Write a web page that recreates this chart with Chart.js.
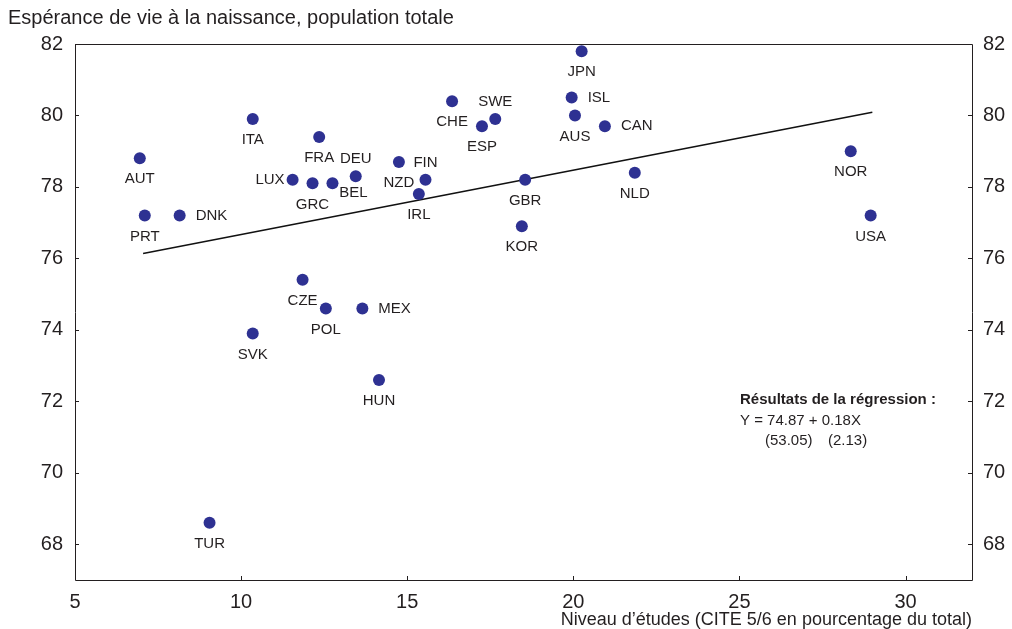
<!DOCTYPE html>
<html lang="fr">
<head>
<meta charset="utf-8">
<title>Espérance de vie et niveau d'études</title>
<script src="https://cdn.jsdelivr.net/npm/chart.js@4.4.1/dist/chart.umd.min.js"></script>
<style>
  html, body { margin: 0; padding: 0; background: #fff; }
  #wrap { width: 1012px; height: 629px; position: relative; }
</style>
</head>
<body>
<div id="wrap"><canvas id="c"></canvas></div>
<script>
// Pays (codes)
const countries = ['AUT','PRT','DNK','ITA','FRA','LUX','GRC','BEL','DEU','NZD','FIN','IRL',
  'CHE','SWE','ESP','JPN','ISL','AUS','CAN','GBR','KOR','NLD','NOR','USA',
  'CZE','POL','MEX','SVK','HUN','TUR'];
// Niveau d'études (CITE 5/6, % du total)
const education = [6.95, 7.1, 8.15, 10.35, 12.35, 11.55, 12.15, 12.75, 13.45, 14.75, 15.55, 15.35,
  16.35, 17.65, 17.25, 20.25, 19.95, 20.05, 20.95, 18.55, 18.45, 21.85, 28.35, 28.95,
  11.85, 12.55, 13.65, 10.35, 14.15, 9.05];
// Espérance de vie à la naissance
const lifeExpectancy = [78.8, 77.2, 77.2, 79.9, 79.4, 78.2, 78.1, 78.1, 78.3, 78.7, 78.2, 77.8,
  80.4, 79.9, 79.7, 81.8, 80.5, 80.0, 79.7, 78.2, 76.9, 78.4, 79.0, 77.2,
  75.4, 74.6, 74.6, 73.9, 72.6, 68.6];
// Régression : Y = a + bX, tracée entre le plus petit et le plus grand X observés
const regIntercept = 74.87;
const regSlope = 0.18;
const regTStats = ['(53.05)', '(2.13)'];
const regX = [7.05, 29.0];
// Graduations
const xTicks = [5, 10, 15, 20, 25, 30];
const yTicks = [68, 70, 72, 74, 76, 78, 80, 82];

// Placement des étiquettes de pays
const labelPlacement = {
  DNK: 'right', LUX: 'left', BEL: 'belowRight', DEU: 'above', FIN: 'above',
  SWE: 'above', ISL: 'right', CAN: 'right', MEX: 'right'
};

const INK = '#231f20';
const DOT = '#2e3192';
const FONT = '"Liberation Sans", Arial, Helvetica, sans-serif';

const points = education.map((x, i) => ({ x: x, y: lifeExpectancy[i] }));
const regLine = regX.map(x => ({ x: x, y: regIntercept + regSlope * x }));

const setTicks = list => scale => { scale.ticks = list.map(v => ({ value: v })); };

const frame = {
  id: 'frame',
  afterDatasetsDraw(chart) {
    const { ctx, chartArea: a, scales } = chart;
    ctx.save();
    ctx.strokeStyle = INK;
    ctx.lineWidth = 1;
    ctx.beginPath();
    ctx.rect(Math.round(a.left) + 0.5, Math.round(a.top) + 0.5,
             Math.round(a.right - a.left), Math.round(a.bottom - a.top));
    ctx.stroke();
    // graduations intérieures
    const len = 4;
    ctx.beginPath();
    yTicks.forEach(v => {
      const py = Math.round(scales.y.getPixelForValue(v)) + 0.5;
      ctx.moveTo(a.left, py); ctx.lineTo(a.left + len, py);
      ctx.moveTo(a.right, py); ctx.lineTo(a.right - len, py);
    });
    xTicks.forEach(v => {
      const px = Math.round(scales.x.getPixelForValue(v)) + 0.5;
      ctx.moveTo(px, a.bottom); ctx.lineTo(px, a.bottom - len);
    });
    ctx.stroke();

    // étiquettes des pays
    const meta = chart.getDatasetMeta(1);
    ctx.fillStyle = INK;
    ctx.font = '15px ' + FONT;
    ctx.textBaseline = 'middle';
    countries.forEach((name, i) => {
      const el = meta.data[i];
      const pos = labelPlacement[name] || 'below';
      let tx = el.x, ty = el.y, align = 'center';
      if (pos === 'below') { ty += 21; }
      else if (pos === 'above') { ty -= 17; }
      else if (pos === 'right') { tx += 16; align = 'left'; }
      else if (pos === 'left') { tx -= 8; align = 'right'; }
      else if (pos === 'belowRight') { tx += 21; ty += 9; }
      ctx.textAlign = align;
      ctx.fillText(name, tx, ty);
    });

    // encadré de régression
    ctx.textAlign = 'left';
    ctx.font = 'bold 15px ' + FONT;
    ctx.fillText('Résultats de la régression :', 740, 400);
    ctx.font = '15px ' + FONT;
    const a0 = regIntercept.toFixed(2), b0 = regSlope.toFixed(2);
    ctx.fillText('Y = ' + a0 + ' + ' + b0 + 'X', 740, 421);
    ctx.fillText(regTStats[0], 765, 441);
    ctx.fillText(regTStats[1], 828, 441);

    // titres
    ctx.font = '20px ' + FONT;
    ctx.fillText('Espérance de vie à la naissance, population totale', 8, 18);
    ctx.textAlign = 'right';
    ctx.font = '18px ' + FONT;
    ctx.fillText('Niveau d\u2019études (CITE 5/6 en pourcentage du total)', 972, 620);
    ctx.restore();
  }
};

new Chart(document.getElementById('c'), {
  type: 'scatter',
  data: {
    datasets: [
      {
        type: 'line',
        data: regLine,
        borderColor: '#111',
        borderWidth: 1.6,
        pointRadius: 0,
        fill: false,
        order: 2
      },
      {
        data: points,
        backgroundColor: DOT,
        borderColor: DOT,
        borderWidth: 0,
        pointRadius: 6,
        pointHoverRadius: 6,
        order: 1
      }
    ]
  },
  options: {
    responsive: true,
    maintainAspectRatio: false,
    animation: false,
    events: [],
    layout: { padding: { top: 44, left: 0, right: 0, bottom: 0 } },
    plugins: { legend: { display: false }, tooltip: { enabled: false }, title: { display: false } },
    scales: {
      x: {
        type: 'linear', min: 5, max: 32,
        afterBuildTicks: setTicks(xTicks),
        afterFit: s => { s.height = 49; },
        grid: { display: false, drawTicks: false },
        border: { display: false },
        ticks: { color: INK, font: { family: FONT, size: 20 }, padding: 10, maxRotation: 0 }
      },
      y: {
        type: 'linear', position: 'left', min: 67, max: 82,
        afterBuildTicks: setTicks(yTicks),
        afterFit: s => { s.width = 75; },
        grid: { display: false, drawTicks: false },
        border: { display: false },
        ticks: { color: INK, font: { family: FONT, size: 20 }, padding: 12 }
      },
      y2: {
        type: 'linear', position: 'right', min: 67, max: 82,
        afterBuildTicks: setTicks(yTicks),
        afterFit: s => { s.width = 40; },
        grid: { display: false, drawTicks: false },
        border: { display: false },
        ticks: { color: INK, font: { family: FONT, size: 20 }, padding: 11 }
      }
    }
  },
  plugins: [frame]
});
</script>
</body>
</html>
